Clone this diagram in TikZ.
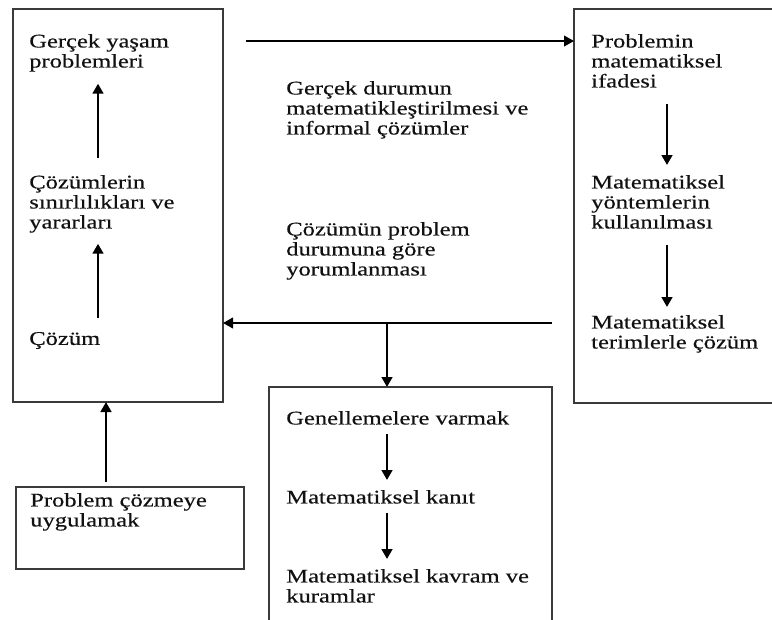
\documentclass[tikz,border=0pt]{standalone}
\usepackage{fontspec}
\setmainfont{Liberation Serif}[FakeStretch=1.27,FakeBold=0.35]
\usepackage{tikz}
\usetikzlibrary{arrows.meta,positioning,calc}
\definecolor{ink}{HTML}{111111}
\definecolor{frame}{HTML}{3A3A3A}

\begin{document}
\begin{tikzpicture}[x=0.75pt,y=-0.75pt]
    \tikzset{
      panel/.style={draw=frame,line width=0.8pt,inner sep=0pt,outer sep=0pt},
      txt/.style={anchor=north west,inner sep=0pt,align=left,text=ink,font=\fontsize{14.5pt}{15pt}\selectfont},
      arrow/.style={-{Triangle[length=7.5pt,width=8pt]},draw=black,line width=1.9pt}
    }
    \path[use as bounding box,clip] (0,0) rectangle (772,619);
    % frames
    \node[panel,minimum width=157.5pt,minimum height=294.75pt] (lbox) at (118,205.5) {};
    \node[panel,minimum width=169.5pt,minimum height=295.5pt] (rbox) at (687,206) {};
    \node[panel,minimum width=212.25pt,minimum height=197.25pt] (mbox) at (410.5,518.5) {};
    \node[panel,minimum width=171pt,minimum height=61.5pt] (pbox) at (130,528) {};
    % left column
    \node[txt] (gercek) at (29,33.8) {Gerçek yaşam\\problemleri};
    \node[txt] (sinir) at (29,174.8) {Çözümlerin\\sınırlılıkları ve\\yararları};
    \node[txt] (cozum) at (29,331.8) {Çözüm};
    % right column
    \node[txt] (ifade) at (591,33.8) {Problemin\\matematiksel\\ifadesi};
    \node[txt] (yontem) at (591,174.8) {Matematiksel\\yöntemlerin\\kullanılması};
    \node[txt] (terim) at (591,314.8) {Matematiksel\\terimlerle çözüm};
    % middle
    \node[txt] (durum) at (286,80.8) {Gerçek durumun\\matematikleştirilmesi ve\\informal çözümler};
    \node[txt] (yorum) at (286,221.8) {Çözümün problem\\durumuna göre\\yorumlanması};
    \node[txt] (genel) at (286,410.8) {Genellemelere varmak};
    \node[txt] (kanit) at (286,489.8) {Matematiksel kanıt};
    \node[txt] (kavram) at (286,568.8) {Matematiksel kavram ve\\kuramlar};
    \node[txt] (uygula) at (30,492.8) {Problem çözmeye\\uygulamak};
    % arrow columns
    \coordinate (colL) at (98,0);
    \coordinate (colP) at (106,0);
    \coordinate (colR) at (667,0);
    \coordinate (junc) at (387,323);
    \draw[arrow,shorten <=12.6pt,shorten >=8.85pt] (sinir.north -| colL) -- (gercek.south -| colL);
    \draw[arrow,shorten <=10.35pt,shorten >=8.1pt] (cozum.north -| colL) -- (sinir.south -| colL);
    \draw[arrow,shorten <=3.75pt] (pbox.north -| colP) -- (lbox.south -| colP);
    \draw[arrow,shorten <=12pt,shorten >=7.35pt] (ifade.south -| colR) -- (yontem.north -| colR);
    \draw[arrow,shorten <=12pt,shorten >=5.85pt] (yontem.south -| colR) -- (terim.north -| colR);
    \draw[arrow,shorten <=6.75pt,shorten >=7.35pt] (genel.south -| junc) -- (kanit.north -| junc);
    \draw[arrow,shorten <=6.75pt,shorten >=7.35pt] (kanit.south -| junc) -- (kavram.north -| junc);
    \draw[arrow,line width=1.5pt] ([xshift=17.25pt,yshift=-24pt]lbox.north east) -- ([yshift=-24pt]rbox.north west);
    \draw[arrow,line width=1.5pt] ([xshift=-16.5pt,yshift=-235.5pt]rbox.north west) -- ([yshift=-235.5pt]lbox.north east);
    \draw[arrow] (junc) -- (junc |- mbox.north);
  \end{tikzpicture}
\end{document}
